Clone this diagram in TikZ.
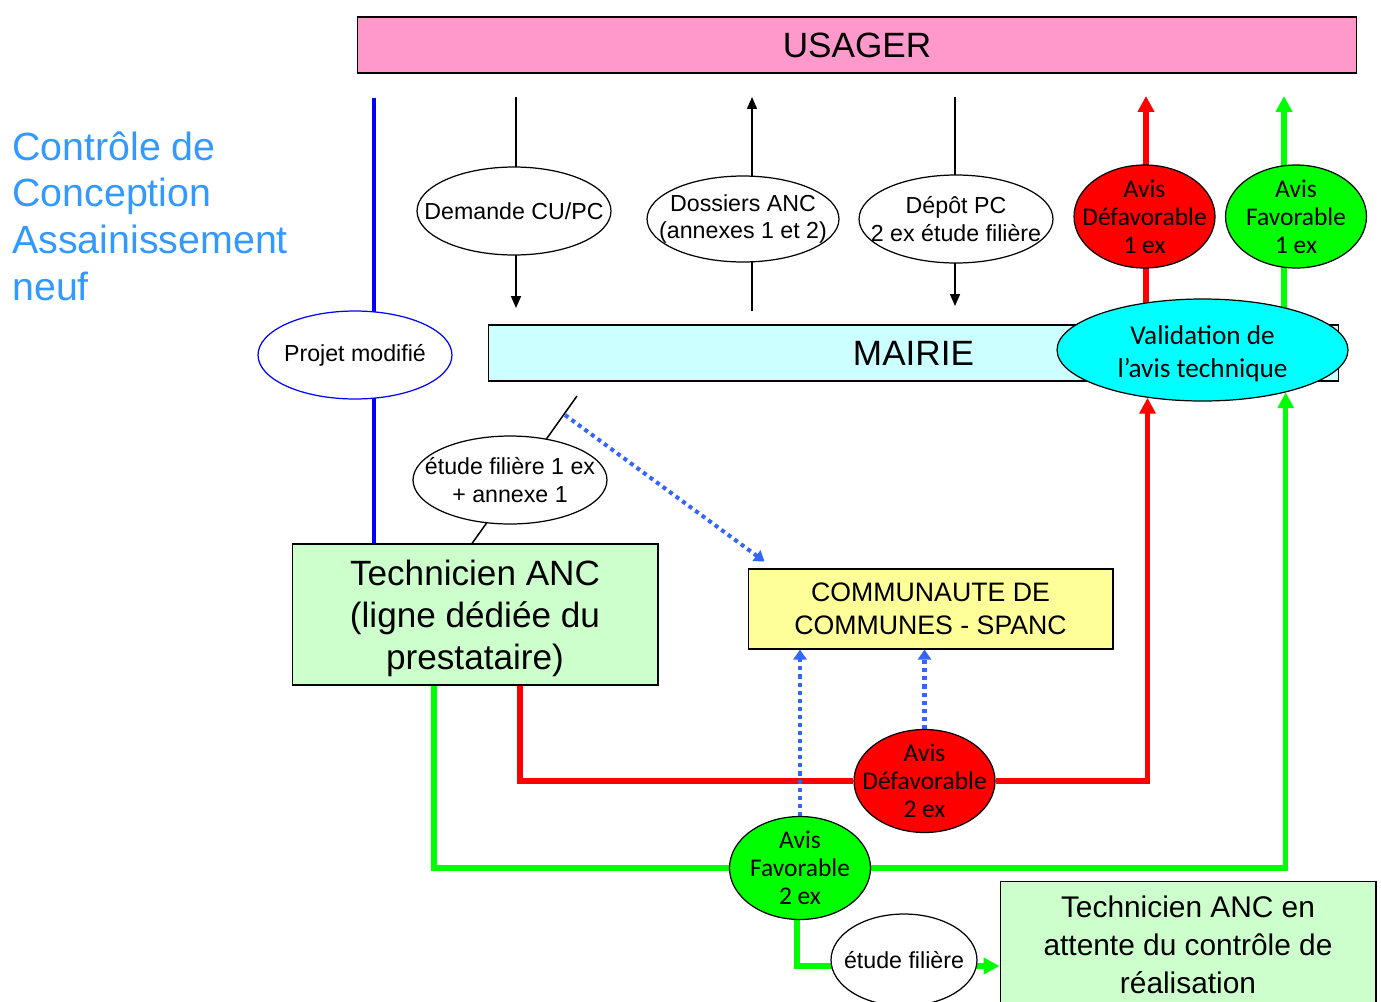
\documentclass[tikz,border=0pt]{standalone}
\usepackage{fontspec}
\setmainfont{Liberation Sans}
\newfontfamily\calibri{Carlito}
\usepackage{tikz}
\usetikzlibrary{arrows.meta}
\usetikzlibrary{shapes.geometric}
\usetikzlibrary{backgrounds}

\definecolor{usagerpink}{HTML}{FF99CC}
\definecolor{mairiecyan}{HTML}{CCFFFF}
\definecolor{techgreen}{HTML}{CCFFCC}
\definecolor{spancyellow}{HTML}{FFFF99}
\definecolor{valcyan}{HTML}{00FFFF}
\definecolor{titleblue}{HTML}{3399FF}
\definecolor{dotblue}{HTML}{3366FF}
\definecolor{avisred}{HTML}{FF0000}
\definecolor{avisgreen}{HTML}{00FF00}
\definecolor{projblue}{HTML}{0000FF}

\begin{document}
\begin{tikzpicture}[x=0.02cm,y=-0.02cm,
  bigbox/.style={draw,line width=0.6pt,inner sep=0pt},
  oval/.style={ellipse,draw,line width=0.7pt,fill=white,inner sep=-3cm,align=center,
    font=\fontsize{13.2}{15.9}\selectfont,minimum width=3.88cm,minimum height=1.76cm},
  avis/.style={ellipse,draw,line width=0.7pt,inner sep=-3cm,align=center,
    font=\calibri\fontsize{14.5}{16}\selectfont,minimum width=2.82cm,minimum height=2.06cm},
  thinarrow/.style={line width=0.85pt,-{Triangle[width=5.7pt,length=6.8pt]}},
  fatline/.style={line width=2.9pt},
  fattip/.style={-{Triangle[width=9pt,length=9pt]}},
  dotarrow/.style={dotblue,line width=2.3pt,dash pattern=on 2.3pt off 2.3pt,
    -{Triangle[width=7.4pt,length=5.7pt]}}]

\useasboundingbox (0,0) rectangle (1381,1001);
\clip (0,0) rectangle (1381,1001);

% Title
\node[anchor=west,align=left,inner sep=0pt,text=titleblue,
  font=\fontsize{22.4}{26.6}\selectfont] (titre) at (12,216)
  {Contrôle de\\Conception\\Assainissement\\neuf};

% Boxes
\node[bigbox,fill=usagerpink,minimum width=20cm,minimum height=1.12cm,
  font=\fontsize{20}{24}\selectfont] (usager) at (857,45) {USAGER};
\node[bigbox,fill=mairiecyan,minimum width=17.02cm,minimum height=1.12cm,
  font=\fontsize{20}{24}\selectfont] (mairie) at (913.5,353) {MAIRIE};
\node[bigbox,fill=techgreen,minimum width=7.32cm,minimum height=2.82cm,align=center,
  font=\fontsize{20}{23.8}\selectfont] (tech) at (475,614.5)
  {\rule{0pt}{19pt}Technicien ANC\\(ligne dédiée du\\prestataire)};
\node[bigbox,fill=spancyellow,minimum width=7.3cm,minimum height=1.6cm,align=center,
  font=\fontsize{15.2}{18.7}\selectfont] (spanc) at (930.5,609)
  {COMMUNAUTE DE\\COMMUNES - SPANC};
\node[bigbox,fill=techgreen,minimum width=7.52cm,minimum height=2.56cm,align=center,
  font=\fontsize{17}{21.5}\selectfont] (attente) at (1188,945)
  {Technicien ANC en\\attente du contrôle de\\réalisation};

% Documents
\node[oval] (demande) at (514,211) {Demande CU/PC};
\node[oval,minimum width=3.84cm,minimum height=1.72cm] (dossiers) at (743,219)
  {Dossiers ANC\\(annexes 1 et 2)};
\node[oval] (depot) at (956,219) {Dépôt PC\\2 ex étude filière};
\node[oval,draw=projblue] (projet) at (355,355) {Projet modifié};
\node[oval] (etude1) at (510,480) {étude filière 1 ex\\+ annexe 1};
\node[oval,minimum width=2.92cm,minimum height=1.84cm] (etude2) at (904,960) {étude filière};

% Avis
\node[avis,fill=avisred] (defav1) at (1144.5,216.5) {Avis\\Défavorable\\1 ex};
\node[avis,fill=avisgreen] (fav1) at (1296,216.5) {Avis\\Favorable\\1 ex};
\node[avis,fill=valcyan,minimum width=5.82cm,minimum height=2.04cm,
  font=\calibri\fontsize{15.5}{18.7}\selectfont] (valid) at (1202.5,350)
  {\rule{0pt}{15pt}Validation de\\l’avis technique};
\node[avis,fill=avisred] (defav2) at (924.5,781) {Avis\\Défavorable\\2 ex};
\node[avis,fill=avisgreen] (fav2) at (800,868) {Avis\\Favorable\\2 ex};

% Free ends
\coordinate (demIn) at (516,97);
\coordinate (demOut) at (516,308);
\coordinate (dosIn) at (752,311);
\coordinate (dosOut) at (752,97);
\coordinate (depIn) at (955,97);
\coordinate (depOut) at (955,306);
\coordinate (defOut) at (1146,96);
\coordinate (favOut) at (1284,96);
\coordinate (projTop) at (374,98);
\coordinate (etIn) at (577,396);
\coordinate (dotStart) at (565,415);

\begin{scope}[on background layer]
% Flows with the usager
\draw[thinarrow] (demIn) -- (demOut);
\draw[thinarrow] (dosIn) -- (dosOut);
\draw[thinarrow] (depIn) -- (depOut);
\draw[fatline,avisred,fattip] (defOut |- valid) -- (defOut);
\draw[fatline,avisgreen,fattip] (favOut |- valid) -- (favOut);

% Technicien
\draw[projblue,line width=2.8pt] (projTop) -- (projTop |- tech.north);
\draw[line width=0.85pt] (etIn) -- ([xshift=-0.06cm]tech.north);
\draw[fatline,avisred,fattip] ([xshift=0.9cm]tech.south) |- (defav2) -| (valid.221);
\draw[fatline,avisgreen,fattip] ([xshift=-0.82cm]tech.south) |- (fav2) -| (valid.333);

% SPANC
\draw[dotarrow] (dotStart) -- ([xshift=0.34cm,yshift=0.14cm]spanc.north west);
\draw[dotarrow] (fav2) -- (fav2 |- spanc.south);
\draw[dotarrow] (defav2) -- (defav2 |- spanc.south);

% Realisation
\draw[fatline,avisgreen,fattip] ([xshift=-0.06cm]fav2.south) |- ([yshift=-0.42cm]attente.west);
\end{scope}

\end{tikzpicture}
\end{document}
